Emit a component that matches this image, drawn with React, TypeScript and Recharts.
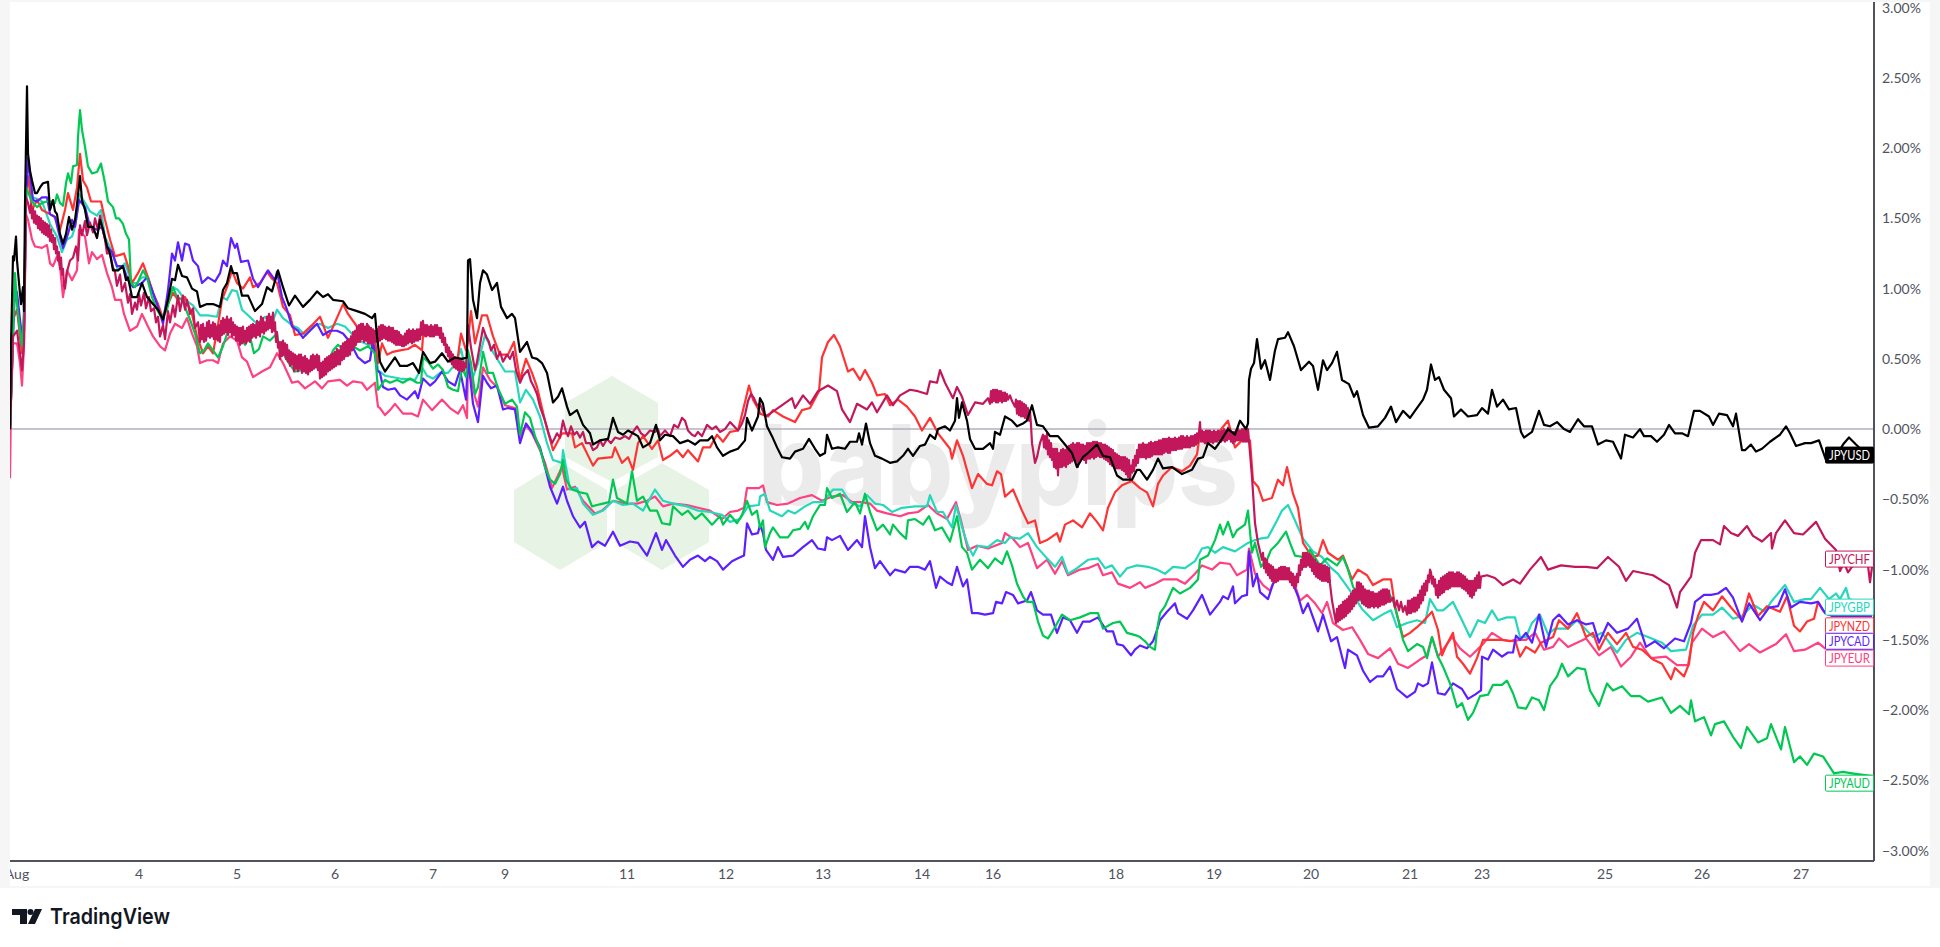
import { LineChart, Line, XAxis, YAxis, ReferenceLine, ReferenceDot } from "recharts";

// percent change vs trading bar as [bar, pct]
const JPYUSD = [[0,0],[1,.6],[3,1.23],[4,1.2],[6,1.37],[7,1.2],[9,1.04],[11,.89],[13,1.01],[14,.84],[15,1.6],[17,2.44],[18,1.96],[20,1.84],[22,1.77],[25,1.68],[27,1.68],[30,1.72],[33,1.75],[38,1.76],[40,1.56],[43,1.63],[45,1.55],[47,1.53],[50,1.39],[53,1.32],[56,1.39],[59,1.51],[62,1.42],[65,1.49],[67,1.6],[70,1.8],[72,1.63],[75,1.56],[78,1.44],[83,1.44],[87,1.36],[90,1.49],[93,1.42],[97,1.3],[100,1.25],[103,1.13],[108,1.13],[113,1.16],[116,1.06],[118,1.08],[122,.94],[127,.94],[132,1.04],[137,.94],[143,.89],[148,.85],[153,.78],[158,.92],[162,1.07],[165,1.06],[168,1.17],[172,1.09],[177,1.08],[182,1,],[187,.98],[190,.87],[197,.89],[203,.89],[210,.87],[213,.99],[217,1.04],[221,1.16],[223,1.11],[227,1.11],[232,.95],[238,.95],[245,.84],[252,.89],[257,1.01],[262,.98],[268,1.13],[273,1.01],[279,.88],[285,.95],[293,.87],[300,.92],[307,.98],[313,.94],[318,.96],[323,.92],[333,.91],[338,.86],[347,.84],[355,.82],[362,.79],[365,.82],[367,.66],[370,.48],[375,.41],[380,.46],[385,.51],[390,.45],[397,.45],[403,.47],[409,.4],[413,.55],[420,.47],[425,.48],[432,.54],[438,.48],[445,.51],[452,.5],[457,.51],[458,1.2],[460,1.21],[463,.92],[467,.79],[470,1.04],[473,1.13],[477,1.1],[482,.99],[487,1.04],[491,.87],[497,.79],[502,.82],[505,.79],[510,.55],[517,.62],[522,.51],[527,.5],[532,.47],[537,.4],[543,.19],[548,.23],[552,.29],[557,.16],[560,.1],[567,.135],[573,.03],[580,-.03],[583,-.11],[590,-.08],[598,-.07],[603,.08],[608,-.02],[613,-.04],[618,-.01],[623,-.03],[628,-.05],[633,-.13],[640,-.1],[646,.03],[650,-.08],[655,-.04],[663,-.05],[670,-.1],[678,-.08],[685,-.11],[690,-.08],[698,-.08],[702,-.05],[707,-.13],[713,-.19],[720,-.16],[728,-.14],[735,-.08],[737,.08],[742,-.01],[748,.09],[750,.22],[753,.18],[757,.02],[762,-.05],[767,-.13],[772,-.2],[780,-.21],[785,-.16],[793,-.14],[799,-.07],[805,-.14],[810,-.19],[815,-.17],[817,-.04],[822,-.14],[828,-.13],[835,-.14],[840,-.09],[847,-.09],[849,-.03],[852,-.11],[856,.04],[860,-.1],[865,-.19],[872,-.21],[880,-.24],[887,-.23],[893,-.19],[898,-.14],[903,-.19],[910,-.12],[915,-.11],[920,-.04],[925,-.07],[928,0],[935,.02],[940,-.01],[945,.06],[947,.22],[949,.08],[952,.19],[957,.06],[960,-.07],[965,-.14],[973,-.14],[980,-.1],[983,-.14],[985,-.02],[990,-.04],[995,.09],[1002,.06],[1007,.02],[1013,.04],[1017,.06],[1022,.17],[1027,.03],[1033,.02],[1040,-.05],[1048,-.05],[1055,-.11],[1062,-.17],[1067,-.27],[1073,-.2],[1078,-.17],[1087,-.11],[1093,-.19],[1100,-.2],[1107,-.33],[1113,-.36],[1122,-.36],[1127,-.29],[1130,-.29],[1137,-.36],[1143,-.29],[1148,-.21],[1153,-.28],[1162,-.27],[1172,-.32],[1182,-.29],[1188,-.21],[1193,-.2],[1198,-.1],[1205,-.14],[1212,-.07],[1218,0],[1225,-.04],[1230,.06],[1236,0],[1238,.04],[1239,.35],[1241,.43],[1244,.47],[1247,.64],[1251,.43],[1255,.49],[1260,.35],[1265,.56],[1268,.64],[1275,.65],[1278,.69],[1284,.59],[1291,.42],[1299,.48],[1303,.45],[1308,.28],[1313,.49],[1317,.42],[1322,.47],[1327,.55],[1332,.35],[1339,.32],[1344,.23],[1347,.27],[1353,.1],[1359,.01],[1368,.02],[1375,.08],[1381,.16],[1386,.05],[1393,.13],[1400,.08],[1406,.14],[1413,.21],[1417,.28],[1421,.46],[1425,.35],[1429,.37],[1434,.28],[1441,.22],[1444,.09],[1451,.14],[1458,.09],[1467,.1],[1472,.15],[1478,.11],[1482,.28],[1487,.16],[1493,.21],[1499,.14],[1506,.15],[1511,-.02],[1514,-.06],[1522,-.02],[1529,.13],[1534,.03],[1540,.02],[1547,.05],[1554,0],[1560,-.02],[1568,.07],[1574,.02],[1582,.02],[1588,-.11],[1596,-.08],[1603,-.09],[1611,-.21],[1615,-.04],[1623,-.06],[1630,0],[1634,-.05],[1641,-.05],[1647,-.09],[1654,-.04],[1659,.03],[1665,-.03],[1672,-.03],[1678,-.05],[1684,.13],[1690,.13],[1699,.09],[1703,.03],[1709,.11],[1717,.1],[1723,.02],[1726,.11],[1732,-.15],[1735,-.15],[1741,-.11],[1746,-.16],[1752,-.14],[1760,-.09],[1770,-.04],[1776,.02],[1780,-.03],[1786,-.12],[1795,-.1],[1801,-.1],[1809,-.08],[1816,-.22],[1825,-.2],[1834,-.1],[1839,-.06],[1846,-.11],[1855,-.17],[1862,-.17]];

const JPYAUD = [[0,0],[3,.66],[5,1.11],[7,.89],[10,.7],[12,.59],[14,.85],[16,1.72],[22,1.62],[27,1.58],[32,1.61],[37,1.62],[42,1.62],[45,1.61],[47,1.67],[50,1.61],[53,1.59],[56,1.75],[58,1.82],[61,1.75],[63,1.87],[67,1.88],[68,2.08],[70,2.27],[72,2.13],[75,2.01],[78,1.87],[82,1.82],[87,1.83],[91,1.89],[95,1.75],[98,1.62],[103,1.58],[106,1.5],[109,1.5],[113,1.46],[116,1.39],[119,1.35],[121,1.04],[125,1.01],[128,1.05],[133,1.13],[137,1.08],[142,.94],[147,.85],[152,.79],[157,.85],[160,.94],[163,1.01],[167,.94],[172,.92],[176,.85],[180,.78],[185,.68],[190,.54],[194,.56],[198,.61],[203,.56],[208,.51],[213,.59],[218,.7],[223,.73],[230,.66],[235,.6],[240,.66],[244,.54],[249,.57],[253,.66],[260,.63],[267,.68],[269,.59],[277,.49],[285,.41],[292,.42],[300,.44],[307,.5],[312,.44],[318,.47],[323,.56],[328,.6],[337,.54],[343,.59],[350,.56],[358,.59],[365,.54],[368,.28],[370,.3],[375,.35],[380,.33],[387,.35],[393,.33],[400,.36],[407,.33],[411,.33],[413,.51],[418,.48],[423,.43],[428,.46],[433,.42],[438,.3],[443,.28],[448,.27],[452,.44],[456,.37],[458,.56],[461,.47],[465,.25],[468,.3],[473,.55],[478,.4],[483,.4],[488,.29],[495,.18],[502,.21],[507,.16],[510,-.04],[515,.12],[520,.08],[525,-.05],[530,-.14],[535,-.27],[540,-.36],[545,-.39],[550,-.32],[553,-.22],[556,-.36],[562,-.43],[570,-.45],[577,-.46],[582,-.55],[587,-.54],[593,-.53],[599,-.52],[603,-.36],[607,-.49],[617,-.53],[622,-.3],[627,-.51],[633,-.48],[640,-.58],[647,-.58],[652,-.67],[660,-.68],[663,-.55],[672,-.61],[678,-.58],[685,-.64],[692,-.6],[702,-.68],[710,-.62],[713,-.68],[720,-.61],[727,-.67],[732,-.61],[737,-.51],[742,-.61],[747,-.58],[750,-.7],[753,-.65],[755,-.84],[760,-.74],[763,-.7],[770,-.77],[778,-.77],[783,-.72],[790,-.71],[795,-.66],[798,-.71],[803,-.62],[810,-.54],[815,-.54],[817,-.42],[822,-.49],[830,-.46],[837,-.59],[845,-.52],[850,-.6],[855,-.46],[860,-.59],[867,-.72],[873,-.68],[880,-.75],[883,-.68],[890,-.74],[896,-.78],[898,-.65],[905,-.64],[913,-.68],[919,-.62],[925,-.72],[932,-.7],[940,-.8],[947,-.62],[952,-.84],[957,-.88],[962,-1],[970,-.93],[978,-.99],[985,-.92],[992,-.96],[997,-.87],[1002,-.97],[1007,-1.1],[1013,-1.19],[1017,-1.23],[1023,-1.23],[1028,-1.37],[1033,-1.47],[1038,-1.49],[1045,-1.41],[1052,-1.32],[1060,-1.36],[1070,-1.34],[1080,-1.31],[1088,-1.31],[1093,-1.42],[1103,-1.38],[1110,-1.37],[1117,-1.45],[1127,-1.47],[1130,-1.48],[1135,-1.51],[1140,-1.55],[1145,-1.57],[1147,-1.43],[1150,-1.31],[1155,-1.26],[1163,-1.13],[1170,-1.17],[1180,-1.13],[1188,-1.07],[1190,-.93],[1198,-.9],[1205,-.79],[1210,-.68],[1213,-.75],[1218,-.66],[1223,-.77],[1227,-.72],[1235,-.68],[1238,-.58],[1242,-.88],[1245,-.81],[1251,-.98],[1257,-.93],[1261,-.86],[1268,-.81],[1276,-.73],[1280,-.81],[1285,-.9],[1293,-.91],[1300,-.86],[1310,-.97],[1317,-.92],[1327,-.97],[1333,-.91],[1338,-1],[1343,-1.12],[1350,-1.22],[1363,-1.19],[1370,-1.23],[1378,-1.16],[1383,-1.22],[1388,-1.35],[1393,-1.5],[1398,-1.58],[1407,-1.53],[1413,-1.55],[1417,-1.63],[1422,-1.48],[1428,-1.62],[1433,-1.69],[1440,-1.81],[1447,-1.98],[1452,-1.95],[1458,-2.07],[1463,-2.02],[1470,-1.9],[1478,-1.89],[1483,-1.82],[1492,-1.82],[1497,-1.79],[1503,-1.88],[1508,-1.98],[1516,-1.99],[1522,-1.91],[1529,-1.93],[1534,-2],[1540,-1.83],[1547,-1.76],[1552,-1.67],[1558,-1.76],[1567,-1.7],[1575,-1.71],[1580,-1.86],[1589,-1.97],[1597,-1.81],[1603,-1.86],[1612,-1.83],[1621,-1.9],[1630,-1.9],[1638,-1.94],[1652,-1.91],[1661,-2.02],[1670,-1.97],[1679,-2.03],[1681,-1.93],[1685,-2.08],[1694,-2.05],[1701,-2.18],[1705,-2.1],[1714,-2.08],[1723,-2.19],[1731,-2.27],[1737,-2.12],[1748,-2.23],[1757,-2.2],[1761,-2.1],[1771,-2.28],[1775,-2.12],[1784,-2.37],[1790,-2.33],[1797,-2.39],[1804,-2.31],[1813,-2.33],[1824,-2.45],[1833,-2.44],[1842,-2.45],[1862,-2.47]];

const JPYCAD = [[0,0],[3,.66],[5,1.01],[7,.97],[10,.78],[12,.66],[14,.7],[16,1.6],[18,1.93],[21,1.75],[23,1.63],[27,1.62],[32,1.65],[37,1.65],[40,1.53],[45,1.51],[49,1.39],[53,1.29],[58,1.39],[62,1.49],[65,1.44],[69,1.63],[75,1.58],[80,1.44],[87,1.42],[92,1.44],[97,1.3],[102,1.26],[107,1.16],[113,1.16],[118,1.06],[123,1.01],[132,1.04],[137,1.08],[142,.99],[147,.89],[153,.75],[158,.99],[162,1.25],[165,1.2],[168,1.33],[172,1.2],[175,1.32],[179,1.31],[183,1.2],[188,1.16],[192,1.04],[198,1.08],[205,1.05],[210,1.11],[213,1.2],[217,1.16],[221,1.36],[225,1.29],[227,1.32],[231,1.19],[238,1.2],[243,1.07],[248,1.01],[253,1.07],[258,1.13],[265,1.06],[267,1.12],[272,.94],[277,.85],[282,.73],[288,.7],[293,.65],[300,.7],[307,.75],[313,.67],[320,.7],[327,.7],[333,.68],[340,.62],[348,.51],[355,.47],[360,.49],[363,.63],[367,.42],[370,.4],[373,.3],[378,.28],[385,.29],[390,.24],[397,.21],[405,.27],[408,.22],[413,.36],[420,.31],[425,.34],[432,.41],[438,.34],[445,.31],[450,.42],[456,.21],[458,.51],[463,.18],[468,.05],[473,.38],[477,.33],[481,.29],[487,.31],[493,.14],[498,.15],[505,.14],[510,-.1],[516,.04],[522,-.02],[530,-.13],[535,-.27],[540,-.41],[547,-.53],[553,-.41],[557,-.51],[563,-.62],[570,-.7],[575,-.66],[582,-.84],[588,-.8],[595,-.83],[603,-.73],[610,-.83],[620,-.8],[628,-.81],[637,-.9],[646,-.74],[652,-.86],[656,-.79],[665,-.9],[673,-.98],[680,-.93],[688,-.9],[695,-.94],[700,-.91],[707,-.94],[713,-1],[722,-.94],[728,-.92],[734,-.9],[737,-.67],[742,-.75],[748,-.74],[750,-.68],[753,-.74],[756,-.86],[763,-.93],[768,-.84],[773,-.91],[783,-.9],[793,-.84],[802,-.79],[808,-.85],[815,-.86],[817,-.77],[822,-.79],[830,-.76],[838,-.86],[847,-.79],[852,-.84],[855,-.62],[860,-.84],[865,-.99],[870,-.94],[880,-1.04],[885,-1],[895,-1.02],[900,-.98],[908,-.98],[915,-1],[920,-.94],[926,-1.13],[930,-1.05],[937,-1.09],[942,-1.11],[947,-.98],[953,-1.12],[957,-1.07],[962,-1.31],[968,-1.31],[975,-1.32],[983,-1.31],[986,-1.23],[992,-1.24],[996,-1.16],[1003,-1.18],[1008,-1.24],[1017,-1.22],[1021,-1.16],[1027,-1.29],[1033,-1.32],[1041,-1.32],[1047,-1.45],[1053,-1.34],[1060,-1.36],[1067,-1.45],[1073,-1.37],[1080,-1.37],[1088,-1.34],[1097,-1.44],[1103,-1.44],[1107,-1.53],[1113,-1.54],[1121,-1.61],[1125,-1.57],[1130,-1.54],[1137,-1.56],[1143,-1.51],[1147,-1.43],[1150,-1.36],[1157,-1.3],[1165,-1.24],[1168,-1.31],[1177,-1.35],[1183,-1.29],[1192,-1.18],[1200,-1.32],[1210,-1.23],[1213,-1.19],[1218,-1.21],[1223,-1.12],[1225,-1.24],[1232,-1.19],[1237,-1.18],[1239,-.87],[1243,-1.12],[1247,-1.03],[1250,-1.16],[1258,-1.21],[1263,-1.1],[1270,-1.04],[1277,-1.03],[1283,-1.1],[1288,-1.19],[1293,-1.31],[1298,-1.24],[1308,-1.44],[1313,-1.32],[1321,-1.51],[1327,-1.48],[1332,-1.62],[1335,-1.7],[1338,-1.57],[1347,-1.61],[1353,-1.72],[1360,-1.8],[1367,-1.76],[1373,-1.76],[1380,-1.69],[1387,-1.85],[1397,-1.91],[1405,-1.87],[1408,-1.81],[1413,-1.83],[1418,-1.81],[1422,-1.66],[1428,-1.88],[1435,-1.89],[1443,-1.81],[1452,-1.85],[1458,-1.92],[1465,-1.89],[1471,-1.86],[1472,-1.62],[1478,-1.64],[1483,-1.57],[1492,-1.62],[1498,-1.59],[1503,-1.59],[1506,-1.47],[1510,-1.5],[1516,-1.45],[1522,-1.52],[1529,-1.32],[1536,-1.55],[1543,-1.36],[1549,-1.32],[1558,-1.39],[1567,-1.36],[1576,-1.39],[1583,-1.38],[1589,-1.52],[1598,-1.38],[1607,-1.45],[1618,-1.42],[1627,-1.35],[1636,-1.55],[1645,-1.51],[1654,-1.56],[1665,-1.49],[1674,-1.51],[1681,-1.38],[1685,-1.23],[1694,-1.18],[1701,-1.18],[1708,-1.17],[1716,-1.13],[1723,-1.2],[1732,-1.37],[1739,-1.24],[1750,-1.36],[1759,-1.27],[1768,-1.26],[1775,-1.14],[1781,-1.27],[1790,-1.23],[1801,-1.24],[1808,-1.23],[1815,-1.31],[1822,-1.33],[1862,-1.33]];

const JPYNZD = [[0,0],[3,.78],[7,.85],[10,.66],[12,.54],[14,.75],[16,1.75],[18,1.8],[22,1.56],[27,1.63],[32,1.56],[40,1.53],[45,1.51],[50,1.42],[55,1.56],[58,1.68],[63,1.56],[67,1.72],[70,1.96],[73,1.77],[77,1.72],[81,1.62],[87,1.62],[91,1.62],[95,1.49],[100,1.35],[105,1.23],[110,1.24],[114,1.25],[118,1.16],[122,1.04],[128,1.11],[133,1.18],[138,1.08],[143,.97],[148,.89],[153,.79],[158,.89],[163,.97],[168,.92],[175,.94],[182,.82],[187,.66],[193,.54],[198,.59],[203,.54],[207,.7],[212,.92],[217,1.01],[222,1.13],[227,1.04],[233,1],[240,1.08],[243,1.01],[250,1.04],[257,1.12],[262,1.07],[267,1.04],[273,.87],[280,.81],[285,.67],[293,.68],[302,.74],[310,.8],[318,.65],[325,.76],[333,.89],[338,.82],[345,.75],[352,.68],[358,.74],[365,.63],[368,.47],[372,.61],[377,.53],[383,.55],[390,.56],[398,.57],[405,.6],[412,.56],[413,.66],[420,.67],[428,.7],[435,.61],[442,.53],[447,.47],[451,.68],[456,.56],[458,.63],[461,.84],[465,.61],[472,.81],[477,.81],[483,.66],[490,.53],[498,.53],[504,.62],[510,.35],[516,.5],[522,.4],[527,.3],[535,.06],[543,-.15],[552,-.03],[562,-.03],[565,-.13],[572,-.1],[583,-.26],[588,-.21],[602,-.2],[605,-.13],[612,-.24],[618,-.2],[623,-.29],[628,-.1],[633,-.05],[642,-.14],[648,-.08],[653,-.22],[660,-.19],[667,-.15],[673,-.2],[678,-.15],[688,-.23],[693,-.13],[700,-.13],[707,-.04],[713,-.09],[720,-.02],[728,-.01],[733,.135],[739,.31],[743,.21],[749,.135],[750,.11],[758,.09],[763,.135],[773,.09],[785,.05],[792,.135],[800,.15],[809,.27],[812,.51],[818,.62],[824,.67],[830,.59],[838,.41],[843,.43],[850,.35],[855,.42],[862,.33],[867,.24],[875,.25],[880,.17],[888,.21],[897,.16],[905,.09],[912,-.01],[920,.08],[928,-.03],[940,-.14],[942,-.21],[947,-.08],[953,-.19],[962,-.42],[968,-.32],[977,-.39],[982,-.4],[987,-.3],[991,-.32],[995,-.48],[1003,-.43],[1012,-.58],[1018,-.67],[1025,-.65],[1030,-.81],[1037,-.79],[1047,-.74],[1050,-.8],[1055,-.68],[1063,-.65],[1072,-.7],[1080,-.6],[1087,-.66],[1093,-.72],[1098,-.56],[1105,-.45],[1112,-.4],[1122,-.37],[1130,-.42],[1137,-.45],[1143,-.55],[1148,-.39],[1153,-.33],[1162,-.27],[1172,-.3],[1180,-.26],[1187,-.18],[1190,-.03],[1195,-.1],[1202,-.09],[1210,-.01],[1218,.06],[1225,-.13],[1232,-.08],[1240,-.08],[1243,-.37],[1248,-.41],[1253,-.51],[1262,-.49],[1268,-.36],[1273,-.4],[1277,-.27],[1283,-.46],[1288,-.56],[1293,-.81],[1302,-.91],[1308,-.9],[1313,-.79],[1318,-.88],[1328,-.93],[1333,-.9],[1342,-1.07],[1348,-1],[1357,-1.04],[1363,-1.11],[1373,-1.07],[1381,-1.07],[1385,-1.26],[1388,-1.35],[1393,-1.48],[1400,-1.45],[1407,-1.41],[1413,-1.37],[1422,-1.3],[1428,-1.43],[1432,-1.61],[1437,-1.53],[1443,-1.45],[1447,-1.62],[1453,-1.67],[1460,-1.74],[1467,-1.63],[1473,-1.5],[1480,-1.5],[1492,-1.5],[1500,-1.51],[1505,-1.5],[1510,-1.62],[1516,-1.55],[1525,-1.59],[1531,-1.52],[1543,-1.48],[1549,-1.36],[1558,-1.42],[1567,-1.31],[1576,-1.48],[1583,-1.45],[1589,-1.57],[1598,-1.45],[1607,-1.53],[1616,-1.45],[1623,-1.55],[1632,-1.57],[1643,-1.64],[1652,-1.67],[1661,-1.78],[1665,-1.7],[1674,-1.76],[1679,-1.67],[1683,-1.45],[1688,-1.33],[1694,-1.23],[1703,-1.29],[1712,-1.19],[1721,-1.27],[1732,-1.36],[1739,-1.17],[1748,-1.33],[1757,-1.26],[1770,-1.3],[1777,-1.19],[1784,-1.4],[1790,-1.44],[1797,-1.37],[1804,-1.35],[1808,-1.23],[1813,-1.29],[1819,-1.32],[1835,-1.33],[1862,-1.33]];

const JPYGBP = [[0,0],[3,.89],[7,.94],[10,.66],[12,.59],[14,.73],[16,1.77],[18,1.8],[22,1.65],[27,1.64],[32,1.62],[40,1.46],[47,1.37],[52,1.26],[57,1.35],[62,1.37],[65,1.44],[70,1.67],[75,1.61],[80,1.55],[87,1.52],[91,1.56],[95,1.37],[102,1.26],[108,1.13],[115,1.18],[122,1.04],[127,1.04],[132,1.08],[138,1.08],[143,.97],[148,.87],[153,.79],[158,.94],[163,1.01],[168,.99],[175,.92],[183,.88],[190,.81],[198,.81],[207,.8],[212,.94],[217,.92],[222,.99],[227,.98],[232,.85],[238,.81],[247,.75],[255,.8],[262,.75],[267,.85],[273,.79],[282,.74],[288,.72],[295,.67],[302,.73],[310,.75],[318,.72],[327,.75],[335,.73],[343,.67],[352,.62],[358,.6],[365,.59],[368,.42],[375,.38],[390,.36],[405,.35],[412,.44],[417,.38],[423,.36],[430,.4],[438,.4],[445,.46],[451,.57],[455,.44],[458,.53],[463,.37],[468,.47],[475,.67],[482,.56],[488,.49],[495,.41],[505,.41],[510,.19],[516,.28],[523,.21],[530,.09],[537,-.1],[543,-.22],[552,-.24],[553,-.15],[560,-.43],[567,-.42],[573,-.53],[583,-.61],[593,-.58],[603,-.51],[613,-.54],[623,-.53],[633,-.58],[645,-.43],[653,-.51],[663,-.53],[677,-.55],[688,-.58],[700,-.59],[712,-.61],[720,-.66],[730,-.64],[738,-.55],[749,-.54],[750,-.48],[755,-.46],[760,-.58],[772,-.62],[778,-.58],[785,-.6],[795,-.55],[803,-.52],[813,-.52],[823,-.43],[832,-.43],[840,-.52],[850,-.55],[857,-.47],[865,-.53],[873,-.54],[882,-.59],[892,-.56],[905,-.55],[917,-.55],[920,-.47],[927,-.59],[933,-.59],[942,-.7],[946,-.54],[953,-.72],[958,-.83],[963,-.9],[968,-.83],[978,-.84],[987,-.79],[995,-.81],[1000,-.77],[1010,-.78],[1018,-.74],[1027,-.84],[1037,-.92],[1045,-.98],[1052,-.91],[1058,-1.03],[1067,-.99],[1078,-.93],[1088,-.92],[1095,-.99],[1102,-.97],[1110,-1.05],[1117,-.99],[1127,-.97],[1138,-.98],[1147,-1],[1155,-1.03],[1163,-.98],[1175,-.99],[1185,-.94],[1192,-.85],[1198,-.84],[1205,-.88],[1213,-.84],[1225,-.87],[1238,-.81],[1245,-.79],[1250,-.78],[1258,-.77],[1267,-.65],[1272,-.58],[1278,-.54],[1285,-.65],[1293,-.78],[1303,-.87],[1312,-.91],[1320,-.98],[1328,-1.03],[1337,-1.12],[1343,-1.18],[1352,-1.28],[1363,-1.36],[1375,-1.31],[1381,-1.29],[1387,-1.41],[1397,-1.38],[1407,-1.36],[1415,-1.38],[1420,-1.21],[1427,-1.29],[1433,-1.29],[1443,-1.23],[1452,-1.36],[1460,-1.48],[1468,-1.36],[1475,-1.38],[1482,-1.29],[1488,-1.36],[1497,-1.34],[1505,-1.34],[1510,-1.48],[1516,-1.48],[1522,-1.38],[1530,-1.32],[1538,-1.46],[1545,-1.42],[1558,-1.42],[1567,-1.36],[1583,-1.48],[1592,-1.45],[1607,-1.59],[1616,-1.5],[1627,-1.45],[1638,-1.48],[1652,-1.52],[1661,-1.58],[1676,-1.57],[1683,-1.4],[1692,-1.32],[1703,-1.32],[1712,-1.27],[1723,-1.35],[1732,-1.33],[1743,-1.25],[1755,-1.3],[1761,-1.23],[1775,-1.11],[1784,-1.23],[1795,-1.21],[1801,-1.21],[1810,-1.13],[1819,-1.21],[1826,-1.17],[1830,-1.21],[1836,-1.13],[1839,-1.21],[1862,-1.25]];

const JPYEUR = [[0,-.35],[1,.2],[3,.61],[7,.61],[10,.47],[12,.31],[14,.59],[16,1.53],[18,1.49],[22,1.35],[25,1.3],[32,1.29],[37,1.31],[40,1.18],[43,1.16],[47,1.23],[50,1.16],[53,.94],[57,1.13],[62,1.06],[67,1.13],[69,1.42],[75,1.37],[79,1.18],[82,1.26],[87,1.21],[92,1.24],[97,1.11],[102,1.01],[105,.92],[111,.92],[114,.82],[120,.7],[127,.73],[132,.82],[138,.73],[143,.66],[150,.59],[155,.56],[160,.68],[165,.75],[172,.72],[177,.79],[182,.68],[187,.59],[190,.47],[197,.49],[203,.49],[208,.47],[213,.61],[220,.66],[227,.63],[232,.51],[237,.48],[243,.37],[252,.41],[260,.44],[267,.54],[273,.47],[282,.33],[288,.34],[295,.29],[305,.34],[312,.29],[318,.34],[330,.35],[337,.31],[343,.34],[352,.33],[357,.28],[365,.33],[368,.16],[370,.15],[375,.1],[380,.135],[385,.18],[393,.11],[402,.11],[408,.09],[413,.21],[422,.135],[432,.21],[440,.15],[448,.11],[453,.17],[457,.08],[458,.47],[465,.23],[468,.16],[473,.44],[480,.35],[487,.3],[495,.17],[505,.15],[510,-.05],[516,.03],[522,-.03],[530,-.15],[535,-.24],[542,-.42],[552,-.27],[557,-.43],[565,-.41],[573,-.51],[585,-.6],[592,-.58],[603,-.51],[617,-.53],[627,-.53],[637,-.51],[645,-.48],[653,-.55],[663,-.53],[677,-.54],[688,-.56],[700,-.58],[712,-.64],[720,-.59],[728,-.58],[734,-.56],[737,-.42],[745,-.42],[749,-.42],[753,-.4],[757,-.52],[767,-.54],[778,-.53],[790,-.49],[802,-.47],[812,-.51],[822,-.48],[833,-.47],[842,-.52],[852,-.52],[860,-.53],[867,-.58],[877,-.6],[890,-.62],[898,-.6],[908,-.59],[918,-.54],[927,-.6],[937,-.64],[946,-.52],[952,-.68],[958,-.86],[967,-.83],[978,-.85],[992,-.81],[995,-.74],[1003,-.78],[1010,-.84],[1018,-.81],[1027,-.99],[1037,-.93],[1045,-1.03],[1052,-.94],[1058,-1.04],[1070,-1],[1078,-.99],[1088,-.96],[1093,-1.04],[1102,-1.02],[1108,-1.1],[1120,-1.13],[1130,-1.09],[1135,-1.13],[1145,-1.1],[1153,-1.07],[1167,-1.07],[1175,-1.1],[1185,-1.03],[1192,-.97],[1202,-1],[1210,-.95],[1220,-.96],[1227,-1.04],[1237,-1],[1239,-.85],[1245,-1.03],[1253,-1.11],[1260,-1.15],[1267,-1.04],[1277,-1.03],[1283,-1.07],[1290,-1.22],[1297,-1.18],[1305,-1.24],[1312,-1.31],[1317,-1.23],[1323,-1.38],[1333,-1.43],[1342,-1.41],[1350,-1.5],[1358,-1.6],[1368,-1.63],[1380,-1.56],[1388,-1.67],[1398,-1.7],[1410,-1.64],[1417,-1.61],[1422,-1.48],[1428,-1.62],[1442,-1.48],[1450,-1.56],[1460,-1.62],[1473,-1.53],[1482,-1.45],[1493,-1.5],[1503,-1.51],[1510,-1.5],[1516,-1.5],[1525,-1.45],[1534,-1.57],[1543,-1.55],[1549,-1.49],[1558,-1.55],[1576,-1.49],[1589,-1.61],[1601,-1.55],[1611,-1.69],[1621,-1.62],[1630,-1.52],[1641,-1.63],[1656,-1.62],[1667,-1.68],[1678,-1.68],[1682,-1.52],[1692,-1.42],[1703,-1.48],[1714,-1.44],[1730,-1.58],[1739,-1.53],[1750,-1.59],[1766,-1.53],[1776,-1.46],[1784,-1.58],[1795,-1.57],[1808,-1.52],[1815,-1.56],[1862,-1.56]];

// the dense stretches of this one really are one bar apart, the line reads as a thick band there
const JPYCHF = [[0,0],[3,.66],[7,.7],[10,.54],[12,.42],[14,.61],[16,1.65],[18,1.61],[20,1.54],[21,1.6],[22,1.5],[23,1.57],[24,1.47],[25,1.55],[26,1.46],[27,1.52],[28,1.43],[29,1.51],[30,1.42],[31,1.5],[32,1.4],[33,1.48],[34,1.39],[35,1.47],[36,1.38],[37,1.46],[38,1.37],[39,1.45],[40,1.34],[41,1.42],[42,1.33],[43,1.38],[44,1.28],[45,1.36],[46,1.25],[47,1.3],[48,1.2],[49,1.26],[50,1.14],[51,1.22],[52,1.1],[53,1.14],[54,1.02],[55,1],[56,1.06],[57,1.12],[60,1.2],[63,1.22],[66,1.3],[68,1.2],[70,1.45],[72,1.38],[75,1.48],[77,1.38],[80,1.47],[83,1.4],[85,1.5],[88,1.42],[90,1.52],[92,1.44],[95,1.35],[97,1.25],[100,1.25],[103,1.15],[105,1.12],[107,1.02],[110,1.1],[112,.98],[115,1.04],[118,.9],[120,.96],[122,.82],[125,.9],[127,.85],[129,.96],[131,.88],[134,.97],[136,.86],[139,.94],[141,.84],[144,.86],[146,.76],[148,.8],[150,.66],[153,.74],[155,.64],[158,.84],[160,.76],[163,.88],[165,.8],[168,.95],[170,.84],[173,.95],[175,.85],[177,.92],[180,.82],[183,.86],[185,.72],[188,.76],[190,.62],[191,.74],[192,.64],[193,.75],[194,.62],[195,.72],[196,.63],[197,.76],[198,.66],[199,.77],[200,.65],[201,.74],[202,.66],[203,.76],[204,.64],[205,.75],[206,.64],[207,.73],[208,.63],[209,.74],[210,.62],[211,.77],[212,.67],[213,.79],[214,.68],[215,.78],[216,.69],[217,.8],[218,.67],[219,.78],[220,.69],[221,.79],[222,.66],[223,.76],[224,.67],[225,.74],[226,.63],[227,.73],[228,.63],[229,.72],[230,.6],[231,.72],[232,.61],[233,.73],[234,.62],[235,.7],[236,.61],[237,.72],[238,.63],[239,.73],[240,.62],[241,.74],[242,.65],[243,.75],[244,.66],[245,.74],[246,.65],[247,.77],[248,.67],[249,.76],[250,.66],[251,.8],[252,.69],[253,.79],[254,.68],[255,.76],[256,.7],[257,.8],[258,.71],[259,.82],[260,.72],[261,.8],[262,.69],[263,.83],[264,.7],[265,.76],[266,.62],[267,.69],[268,.58],[269,.62],[270,.5],[271,.62],[272,.52],[273,.63],[274,.53],[275,.61],[276,.5],[277,.6],[278,.48],[279,.56],[280,.45],[281,.55],[282,.46],[283,.54],[284,.41],[285,.53],[286,.43],[287,.52],[288,.41],[289,.53],[290,.43],[291,.53],[292,.4],[293,.51],[294,.41],[295,.52],[296,.4],[297,.5],[298,.39],[299,.49],[300,.41],[301,.52],[302,.42],[303,.53],[304,.43],[305,.52],[306,.44],[307,.53],[308,.42],[309,.52],[310,.36],[311,.47],[312,.37],[313,.48],[314,.38],[315,.5],[316,.39],[317,.51],[318,.41],[319,.52],[320,.42],[321,.53],[322,.43],[323,.54],[324,.44],[325,.55],[326,.45],[327,.57],[328,.46],[329,.56],[330,.46],[331,.59],[332,.49],[333,.61],[334,.5],[335,.62],[336,.52],[337,.63],[338,.52],[339,.64],[340,.53],[341,.66],[342,.56],[343,.69],[344,.58],[345,.7],[346,.6],[347,.73],[348,.62],[349,.74],[350,.62],[351,.75],[352,.64],[353,.75],[354,.62],[355,.73],[356,.63],[357,.75],[358,.61],[359,.73],[360,.61],[361,.72],[362,.6],[363,.71],[364,.62],[365,.7],[366,.62],[367,.71],[368,.62],[369,.73],[370,.63],[371,.74],[372,.64],[373,.74],[374,.65],[375,.73],[376,.64],[377,.72],[378,.63],[379,.73],[380,.63],[381,.72],[382,.62],[383,.72],[384,.61],[385,.7],[386,.6],[387,.7],[388,.6],[389,.69],[390,.6],[391,.67],[392,.59],[393,.66],[394,.59],[395,.68],[396,.6],[397,.7],[398,.61],[399,.71],[400,.62],[401,.7],[402,.61],[403,.71],[404,.62],[405,.7],[406,.63],[407,.71],[408,.63],[409,.71],[410,.64],[411,.76],[412,.67],[413,.77],[414,.67],[415,.74],[416,.66],[417,.74],[418,.67],[419,.73],[420,.66],[421,.74],[422,.66],[423,.73],[424,.66],[425,.74],[426,.67],[427,.74],[428,.67],[429,.72],[430,.65],[431,.72],[432,.62],[433,.68],[434,.6],[435,.65],[436,.55],[437,.6],[438,.52],[439,.58],[440,.48],[441,.55],[442,.46],[443,.53],[444,.44],[445,.51],[446,.43],[447,.5],[448,.42],[449,.5],[450,.42],[451,.49],[452,.41],[453,.48],[454,.42],[455,.47],[456,.44],[458,.74],[461,.58],[463,.5],[465,.42],[467,.48],[470,.6],[473,.72],[476,.66],[479,.62],[481,.56],[484,.6],[487,.5],[490,.55],[493,.48],[497,.53],[500,.5],[503,.55],[506,.42],[510,.33],[513,.38],[518,.42],[521,.34],[524,.3],[527,.25],[530,.16],[533,.1],[535,.06],[539,-.04],[542,-.1],[545,-.06],[547,-.03],[550,-.06],[553,.06],[556,-.02],[558,-.05],[561,.02],[564,-.04],[567,-.02],[570,-.06],[573,-.02],[576,-.1],[580,-.1],[583,-.15],[587,-.13],[590,-.08],[593,-.12],[597,-.07],[601,-.1],[605,-.06],[610,-.07],[615,-.05],[619,-.07],[623,-.02],[627,.02],[631,-.03],[635,-.05],[640,-.01],[645,-.02],[648,0],[650,-.05],[655,-.01],[660,-.05],[664,.03],[668,.01],[672,.08],[675,.06],[678,-.01],[682,-.04],[685,-.05],[688,-.02],[692,-.05],[697,.03],[702,0],[706,.02],[710,-.02],[715,0],[720,.05],[724,.02],[728,-.01],[732,.04],[735,.1],[738,.2],[741,.25],[744,.22],[747,.17],[750,.18],[755,.09],[760,.11],[770,.16],[782,.22],[785,.15],[793,.24],[800,.18],[808,.27],[818,.31],[827,.27],[832,.14],[840,.05],[847,.18],[857,.14],[862,.19],[867,.12],[877,.24],[883,.17],[890,.24],[900,.28],[908,.27],[917,.25],[920,.34],[927,.33],[930,.42],[935,.33],[943,.22],[947,.3],[952,.23],[958,.1],[965,.19],[973,.18],[978,.22],[980,.18],[981,.27],[982,.19],[983,.28],[984,.2],[985,.28],[986,.19],[987,.28],[988,.19],[989,.27],[990,.2],[991,.27],[992,.19],[993,.26],[994,.2],[995,.26],[996,.2],[997,.25],[998,.21],[1000,.24],[1002,.2],[1005,.16],[1006,.21],[1007,.11],[1008,.2],[1009,.1],[1010,.2],[1011,.09],[1012,.19],[1013,.09],[1014,.18],[1015,.08],[1016,.17],[1017,.07],[1018,.15],[1019,.06],[1020,.13],[1021,.03],[1022,-.1],[1025,-.24],[1027,-.2],[1030,-.1],[1033,-.04],[1034,-.13],[1035,-.05],[1036,-.14],[1037,-.03],[1038,-.18],[1039,-.08],[1040,-.2],[1041,-.1],[1042,-.22],[1043,-.14],[1044,-.27],[1045,-.14],[1046,-.28],[1047,-.14],[1048,-.33],[1049,-.17],[1050,-.27],[1051,-.15],[1052,-.27],[1053,-.14],[1054,-.26],[1055,-.15],[1056,-.27],[1057,-.13],[1058,-.25],[1059,-.12],[1060,-.24],[1061,-.11],[1062,-.23],[1063,-.1],[1064,-.22],[1065,-.11],[1066,-.23],[1067,-.1],[1068,-.27],[1069,-.1],[1070,-.22],[1071,-.11],[1072,-.21],[1073,-.11],[1074,-.22],[1075,-.12],[1076,-.24],[1077,-.1],[1078,-.21],[1079,-.1],[1080,-.21],[1081,-.1],[1082,-.2],[1083,-.09],[1084,-.21],[1085,-.09],[1086,-.2],[1087,-.09],[1088,-.19],[1089,-.1],[1090,-.2],[1091,-.1],[1092,-.2],[1093,-.11],[1094,-.21],[1095,-.11],[1096,-.22],[1097,-.12],[1098,-.23],[1099,-.13],[1100,-.25],[1101,-.14],[1102,-.26],[1103,-.15],[1104,-.27],[1105,-.17],[1106,-.28],[1107,-.18],[1108,-.28],[1109,-.19],[1110,-.28],[1111,-.2],[1112,-.29],[1113,-.2],[1114,-.3],[1115,-.2],[1116,-.32],[1117,-.21],[1118,-.34],[1119,-.22],[1120,-.36],[1121,-.26],[1122,-.31],[1123,-.22],[1124,-.3],[1125,-.19],[1126,-.26],[1127,-.15],[1128,-.24],[1129,-.11],[1130,-.2],[1131,-.11],[1132,-.2],[1133,-.1],[1134,-.2],[1135,-.11],[1136,-.21],[1137,-.11],[1138,-.2],[1139,-.1],[1140,-.2],[1141,-.09],[1142,-.19],[1143,-.1],[1144,-.18],[1145,-.09],[1146,-.18],[1147,-.09],[1148,-.18],[1149,-.08],[1150,-.18],[1151,-.08],[1152,-.18],[1153,-.07],[1154,-.17],[1155,-.07],[1156,-.16],[1157,-.07],[1158,-.17],[1159,-.06],[1160,-.17],[1161,-.07],[1162,-.15],[1163,-.07],[1164,-.15],[1165,-.06],[1166,-.15],[1167,-.07],[1168,-.14],[1169,-.06],[1170,-.14],[1171,-.05],[1172,-.14],[1173,-.05],[1174,-.13],[1175,-.06],[1176,-.13],[1177,-.05],[1178,-.13],[1179,-.06],[1180,-.13],[1181,-.05],[1182,-.12],[1183,-.05],[1184,-.12],[1185,-.04],[1186,-.11],[1187,-.03],[1188,-.1],[1190,.05],[1191,-.09],[1192,-.01],[1193,-.09],[1194,-.02],[1195,-.1],[1196,-.01],[1197,-.1],[1198,-.01],[1199,-.09],[1200,-.01],[1201,-.09],[1202,-.02],[1203,-.1],[1204,-.01],[1205,-.09],[1206,-.02],[1207,-.09],[1208,-.01],[1209,-.08],[1210,-.02],[1211,-.09],[1212,-.01],[1213,-.08],[1214,0],[1215,-.09],[1216,-.01],[1217,-.08],[1218,.01],[1219,-.07],[1220,0],[1221,-.09],[1222,-.02],[1223,-.1],[1224,-.02],[1225,-.09],[1226,-.01],[1227,-.08],[1228,0],[1229,-.08],[1230,-.01],[1231,-.08],[1232,0],[1233,-.09],[1234,0],[1235,-.09],[1236,.01],[1237,-.09],[1238,0],[1242,-.34],[1245,-.67],[1248,-.81],[1252,-.93],[1253,-.88],[1254,-.99],[1255,-.92],[1256,-1.02],[1257,-.93],[1258,-1.04],[1259,-.96],[1260,-1.06],[1261,-.97],[1262,-1.08],[1263,-.98],[1264,-1.09],[1265,-1],[1266,-1.09],[1267,-1],[1268,-1.08],[1269,-.99],[1270,-1.07],[1271,-.98],[1272,-1.07],[1273,-.98],[1274,-1.07],[1275,-.98],[1276,-1.07],[1277,-.99],[1278,-1.07],[1279,-.99],[1280,-1.09],[1281,-1.02],[1282,-1.11],[1283,-1.03],[1284,-1.13],[1285,-1.05],[1286,-1.12],[1287,-1.03],[1288,-1.09],[1289,-.97],[1290,-1.04],[1291,-.93],[1292,-1],[1293,-.88],[1294,-.98],[1295,-.88],[1296,-.98],[1297,-.88],[1298,-.97],[1299,-.89],[1300,-.98],[1301,-.9],[1302,-1.01],[1303,-.92],[1304,-1.03],[1305,-.93],[1306,-1.05],[1307,-.95],[1308,-1.06],[1309,-.96],[1310,-1.07],[1311,-.96],[1312,-1.08],[1313,-.97],[1314,-1.08],[1315,-.97],[1316,-1.08],[1317,-.98],[1318,-1.09],[1319,-.99],[1320,-1.1],[1322,-1.22],[1324,-1.3],[1326,-1.38],[1327,-1.28],[1328,-1.37],[1329,-1.26],[1330,-1.36],[1331,-1.25],[1332,-1.35],[1333,-1.23],[1334,-1.34],[1335,-1.22],[1336,-1.33],[1337,-1.21],[1338,-1.31],[1339,-1.19],[1340,-1.3],[1341,-1.17],[1342,-1.28],[1343,-1.15],[1344,-1.26],[1345,-1.14],[1346,-1.24],[1347,-1.09],[1348,-1.22],[1349,-1.09],[1350,-1.21],[1351,-1.1],[1352,-1.24],[1353,-1.12],[1354,-1.25],[1355,-1.14],[1356,-1.26],[1357,-1.15],[1358,-1.27],[1359,-1.15],[1360,-1.27],[1361,-1.16],[1362,-1.26],[1363,-1.16],[1364,-1.27],[1365,-1.17],[1366,-1.26],[1367,-1.17],[1368,-1.27],[1369,-1.16],[1370,-1.26],[1371,-1.15],[1372,-1.25],[1373,-1.14],[1374,-1.25],[1375,-1.14],[1376,-1.24],[1377,-1.14],[1378,-1.23],[1379,-1.15],[1380,-1.23],[1383,-1.2],[1385,-1.27],[1387,-1.22],[1389,-1.29],[1391,-1.23],[1393,-1.3],[1395,-1.26],[1397,-1.32],[1398,-1.22],[1399,-1.31],[1400,-1.22],[1401,-1.31],[1402,-1.21],[1403,-1.3],[1404,-1.2],[1405,-1.3],[1406,-1.2],[1407,-1.29],[1408,-1.18],[1409,-1.27],[1410,-1.15],[1411,-1.24],[1412,-1.12],[1413,-1.22],[1414,-1.1],[1415,-1.18],[1416,-1.08],[1417,-1.15],[1418,-1.04],[1419,-1.09],[1420,-1],[1421,-1.02],[1422,-1.1],[1423,-1.05],[1424,-1.12],[1425,-1.07],[1426,-1.18],[1427,-1.11],[1428,-1.2],[1429,-1.08],[1430,-1.18],[1431,-1.06],[1432,-1.17],[1433,-1.05],[1434,-1.16],[1435,-1.04],[1436,-1.14],[1437,-1.03],[1438,-1.14],[1439,-1.02],[1440,-1.13],[1441,-1.02],[1442,-1.12],[1443,-1.02],[1444,-1.12],[1445,-1.03],[1446,-1.12],[1447,-1.02],[1448,-1.12],[1449,-1.02],[1450,-1.12],[1451,-1.03],[1452,-1.13],[1453,-1.04],[1454,-1.14],[1455,-1.05],[1456,-1.15],[1457,-1.07],[1458,-1.17],[1459,-1.08],[1460,-1.19],[1461,-1.08],[1462,-1.2],[1463,-1.08],[1464,-1.18],[1465,-1.06],[1466,-1.15],[1467,-1.04],[1468,-1.13],[1469,-1.02],[1470,-1.13],[1471,-1.05],[1477,-1.04],[1485,-1.06],[1493,-1.11],[1503,-1.07],[1510,-1.1],[1520,-1],[1531,-.91],[1538,-1],[1551,-.97],[1565,-.98],[1576,-.98],[1587,-.99],[1598,-.91],[1609,-.98],[1616,-1.08],[1623,-1.01],[1643,-1.04],[1659,-1.11],[1667,-1.27],[1670,-1.16],[1681,-1.05],[1685,-.88],[1691,-.79],[1703,-.79],[1710,-.82],[1714,-.69],[1721,-.74],[1728,-.76],[1737,-.69],[1743,-.76],[1752,-.8],[1761,-.74],[1762,-.85],[1766,-.74],[1775,-.65],[1784,-.74],[1793,-.75],[1806,-.66],[1815,-.78],[1826,-.86],[1830,-1.01],[1834,-.95],[1838,-1.02],[1845,-.95],[1855,-.96],[1858,-.97],[1860,-1.09],[1862,-.98]];

const pctTicks = [3, 2.5, 2, 1.5, 1, 0.5, 0, -0.5, -1, -1.5, -2, -2.5, -3];
const dayBars = [7, 129, 227, 325, 423, 495, 617, 716, 813, 912, 983, 1106, 1204, 1301, 1400, 1472, 1595, 1692, 1791];
const dayLabels = ["Aug", "4", "5", "6", "7", "9", "11", "12", "13", "14", "16", "18", "19", "20", "21", "23", "25", "26", "27"];

// back to front, same order the lines overlap in the picture
const seriesList = [
  { name: "JPYEUR", rows: JPYEUR, color: "#ff4081", labelAt: -1.63 },
  { name: "JPYGBP", rows: JPYGBP, color: "#26d7bb", labelAt: -1.267 },
  { name: "JPYNZD", rows: JPYNZD, color: "#ff3333", labelAt: -1.4 },
  { name: "JPYCAD", rows: JPYCAD, color: "#5c1fff", labelAt: -1.51 },
  { name: "JPYAUD", rows: JPYAUD, color: "#00c853", labelAt: -2.52 },
  { name: "JPYCHF", rows: JPYCHF, color: "#c2185b", labelAt: -0.925 },
  { name: "JPYUSD", rows: JPYUSD, color: "#000000", labelAt: -0.185 },
];

const textColor = "#50535e";
const tickFont = "Lato, sans-serif";

const formatPct = (v: number) => `${v < 0 ? "\u2212" : ""}${Math.abs(v).toFixed(2)}%`;
const formatDay = (v: number) => dayLabels[dayBars.indexOf(v)] ?? "";

function PctTick({ x, y, payload }: any) {
  return (
    <text x={x} y={y + 5} textAnchor="start" fontFamily={tickFont} fontSize={14} fill={textColor}>
      {formatPct(payload.value)}
    </text>
  );
}

function EndLabel({ cx, cy, name, color }: any) {
  const filled = name === "JPYUSD";
  return (
    <g>
      <rect x={cx - 24} y={cy - 8} width={48} height={16} rx={1} fill={filled ? "#000" : "#fff"} stroke={color} strokeWidth={1} />
      <text
        x={cx}
        y={cy + 5}
        textAnchor="middle"
        fontFamily={tickFont}
        fontSize={14}
        fill={filled ? "#fff" : color}
        textLength={41}
        lengthAdjust="spacingAndGlyphs"
      >
        {name}
      </text>
    </g>
  );
}

function Backdrop() {
  return (
    <svg width={1940} height={947} style={{ position: "absolute", left: 0, top: 0 }}>
      <rect width={1940} height={947} fill="#fff" />
      <rect width={1940} height={888} fill="#f6f6f6" />
      <rect x={10} y={2} width={1920} height={884} fill="#fff" />
      <g fill="#e7f3e4">
        <polygon points="612,376 658,403 658,457 612,482 565,457 565,403" />
        <polygon points="560,462 607,490 607,542 560,570 514,542 514,490" />
        <polygon points="662,463 709,490 709,542 662,570 615,542 615,490" />
      </g>
      <text x={758} y={505} fontFamily="Inter, sans-serif" fontWeight={800} fontSize={112} fill="#ebebeb" textLength={480} lengthAdjust="spacingAndGlyphs">
        babypips
      </text>
      <g fill="#131722">
        <polygon points="12,909 27,909 27,924 20,924 20,915 12,915" />
        <circle cx={30.5} cy={912} r={3} />
        <polygon points="35,909 42,909 35,924 28,924" />
      </g>
      <text x={50} y={924} fontFamily="Inter, sans-serif" fontWeight={600} fontSize={22} fill="#131722" textLength={120} lengthAdjust="spacingAndGlyphs">
        TradingView
      </text>
    </svg>
  );
}

export default function App() {
  return (
    <div style={{ position: "absolute", left: 0, top: 0, width: 1940, height: 947, overflow: "hidden" }}>
      <Backdrop />
      <div style={{ position: "absolute", left: 0, top: 0 }}>
        <LineChart width={1940} height={947} margin={{ top: 2, right: 0, bottom: 59, left: 10 }}>
          <XAxis
            type="number"
            dataKey="bar"
            domain={[0, 1864]}
            ticks={dayBars}
            tickFormatter={formatDay}
            interval={0}
            tickLine={false}
            tickMargin={2}
            height={27}
            stroke={textColor}
            strokeWidth={2}
            tick={{ fill: textColor, fontSize: 14, fontFamily: tickFont }}
          />
          <YAxis
            orientation="right"
            type="number"
            domain={[-3.074, 3.04]}
            allowDataOverflow
            ticks={pctTicks}
            interval={0}
            tickLine={false}
            tickMargin={2}
            width={66}
            stroke={textColor}
            strokeWidth={2}
            tick={PctTick}
          />
          <ReferenceLine y={0} stroke="#b2b0bd" strokeWidth={1.5} />
          {seriesList.map((s) => (
            <Line
              key={s.name}
              data={s.rows.map(([bar, pct]) => ({ bar, pct }))}
              dataKey="pct"
              name={s.name}
              type="linear"
              dot={false}
              stroke={s.color}
              strokeWidth={2.2}
              strokeLinejoin="round"
              isAnimationActive={false}
            />
          ))}
          {seriesList.map((s) => (
            <ReferenceDot
              key={s.name + "-label"}
              x={1839.5}
              y={s.labelAt}
              r={1}
              ifOverflow="visible"
              shape={(p: any) => <EndLabel {...p} name={s.name} color={s.color} />}
            />
          ))}
        </LineChart>
      </div>
      <div style={{ position: "absolute", left: 0, top: 0, width: 10, height: 888, background: "#f6f6f6" }} />
    </div>
  );
}
